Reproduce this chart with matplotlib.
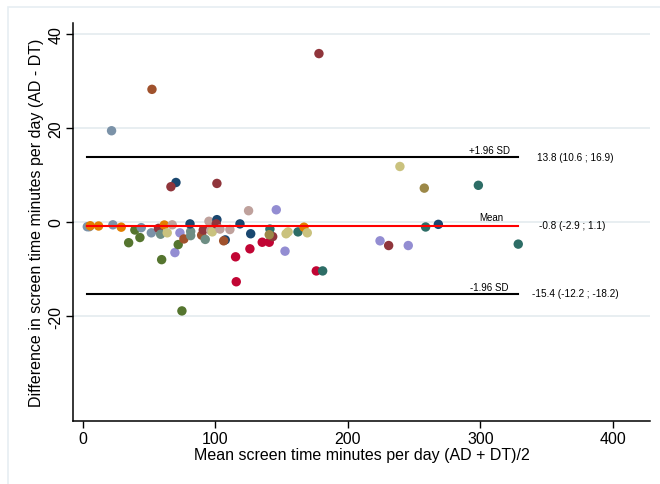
"""Bland-Altman plot: screen time, AD vs DT."""

import matplotlib.pyplot as plt

# Stata s2color palette
NAVY = "#1a476f"
MAROON = "#90353b"
GREEN = "#55752f"
ORANGE = "#e37e00"
TEAL = "#6e8e84"
CRANBERRY = "#c10534"
LAVENDER = "#938dd2"
KHAKI = "#cac27e"
SIENNA = "#a0522d"
EMIDBLUE = "#7b92a8"
EMERALD = "#2d6d66"
BROWN = "#9c8847"
EROSE = "#bfa19c"
GRID = "#e1eaee"

# mean of the two methods, difference (AD - DT)
mean_min = [
    3.3, 4.8, 5.5, 11.8, 22.6, 28.9, 34.5, 39.2, 43.0, 44.0,
    51.6, 57.0, 58.6, 59.4, 61.4, 63.6, 67.4, 69.4, 73.2, 71.9,
    76.2, 74.7, 81.3, 81.3, 80.8, 89.6, 90.8, 92.3, 95.1, 96.4,
    97.6, 101.1, 100.6, 103.4, 107.4, 106.2, 110.9, 118.5, 115.2, 115.7,
    125.0, 126.6, 126.0, 135.3, 140.6, 143.2, 141.1, 140.6, 145.9, 152.5,
    153.3, 154.8, 162.3, 166.8, 169.3, 176.1, 180.9,
    21.6, 52.1, 178.1, 70.2, 66.4, 101.1,
    239.2, 257.6, 298.4, 258.6, 268.2, 224.2, 230.7, 245.5, 328.5,
]
diff_min = [
    -1.0, -1.0, -0.8, -0.85, -0.6, -1.1, -4.4, -1.7, -3.3, -1.2,
    -2.3, -1.35, -2.6, -8.0, -0.64, -2.3, -0.6, -6.5, -2.3, -4.8,
    -3.6, -18.9, -2.0, -2.9, -0.4, -2.8, -1.7, -3.7, 0.15, -1.8,
    -2.1, 0.5, -0.4, -1.5, -3.8, -4.0, -1.6, -0.4, -7.4, -12.7,
    2.4, -2.5, -5.7, -4.3, -4.3, -3.1, -1.5, -2.7, 2.6, -6.2,
    -2.5, -2.1, -2.1, -1.1, -2.3, -10.4, -10.4,
    19.4, 28.2, 35.8, 8.4, 7.5, 8.2,
    11.8, 7.2, 7.8, -1.06, -0.5, -4.0, -5.0, -5.0, -4.7,
]
point_colors = [
    EMIDBLUE, EMIDBLUE, ORANGE, ORANGE, EMIDBLUE, ORANGE, GREEN, GREEN, GREEN, EMIDBLUE,
    EMIDBLUE, MAROON, TEAL, GREEN, ORANGE, KHAKI, EROSE, LAVENDER, LAVENDER, GREEN,
    SIENNA, GREEN, TEAL, TEAL, NAVY, SIENNA, MAROON, TEAL, EROSE, EROSE,
    KHAKI, NAVY, MAROON, EROSE, NAVY, SIENNA, EROSE, NAVY, CRANBERRY, CRANBERRY,
    EROSE, NAVY, CRANBERRY, CRANBERRY, CRANBERRY, MAROON, EMERALD, BROWN, LAVENDER, LAVENDER,
    KHAKI, KHAKI, EMERALD, ORANGE, KHAKI, CRANBERRY, EMERALD,
    EMIDBLUE, SIENNA, MAROON, NAVY, MAROON, MAROON,
    KHAKI, BROWN, EMERALD, EMERALD, NAVY, LAVENDER, MAROON, LAVENDER, EMERALD,
]

loa_upper, loa_mean, loa_lower = 13.8, -0.8, -15.4
loa_labels = ["+1.96 SD", "Mean", "-1.96 SD"]
loa_texts = ["13.8 (10.6 ; 16.9)", "-0.8 (-2.9 ; 1.1)", "-15.4 (-12.2 ; -18.2)"]

plt.rcParams["font.family"] = ["Liberation Sans", "DejaVu Sans"]
plt.rcParams["axes.unicode_minus"] = False

fig = plt.figure(figsize=(6.6, 4.85), dpi=100)
# light graph-region frame
fig.add_artist(plt.Rectangle((8 / 660, -0.1), 1.2, 1 - 8 / 485 + 0.1,
                             transform=fig.transFigure, fill=False,
                             edgecolor="#e6eef2", linewidth=1.2))
ax = fig.add_axes([0.1106, 0.1299, 0.8744, 0.8206])

for y in [40, 20, 0, -20]:
    ax.axhline(y, color=GRID, linewidth=1.1, zorder=0)

x0, x1 = min(mean_min), max(mean_min)
ax.plot([x0, x1], [loa_upper, loa_upper], color="black", linewidth=1.5, zorder=1)
ax.plot([x0, x1], [loa_lower, loa_lower], color="black", linewidth=1.5, zorder=1)

ax.scatter(mean_min, diff_min, s=46, c=point_colors, linewidths=0, zorder=2)
ax.plot([x0, x1], [loa_mean, loa_mean], color="red", linewidth=1.5, zorder=3)

ax.text(322, loa_upper + 1.6, loa_labels[0], fontsize=7, ha="right", va="center")
ax.text(308, loa_mean + 1.9, loa_labels[1], fontsize=7, ha="center", va="center")
ax.text(321, loa_lower + 1.5, loa_labels[2], fontsize=7, ha="right", va="center")
ax.text(342.5, loa_upper, loa_texts[0], fontsize=7.2, ha="left", va="center")
ax.text(344, loa_mean + 0.2, loa_texts[1], fontsize=7.2, ha="left", va="center")
ax.text(339, loa_lower + 0.3, loa_texts[2], fontsize=7.2, ha="left", va="center")

ax.set_xlim(-7.5, 428)
ax.set_ylim(-42.3, 42.3)
ax.set_xticks([0, 100, 200, 300, 400])
ax.set_yticks([-20, 0, 20, 40])
for lbl in ax.get_yticklabels():
    lbl.set_rotation(90)
    lbl.set_va("center")
ax.tick_params(labelsize=11.5, length=5, width=1, pad=2)
ax.spines["top"].set_visible(False)
ax.spines["right"].set_visible(False)
ax.spines["left"].set_linewidth(1.1)
ax.spines["bottom"].set_linewidth(1.1)
ax.set_xlabel("Mean screen time minutes per day (AD + DT)/2", fontsize=11.5, labelpad=1)
ax.set_ylabel("Difference in screen time minutes per day (AD - DT)", fontsize=11.5, labelpad=3)

fig.savefig("out.png", dpi=100)
